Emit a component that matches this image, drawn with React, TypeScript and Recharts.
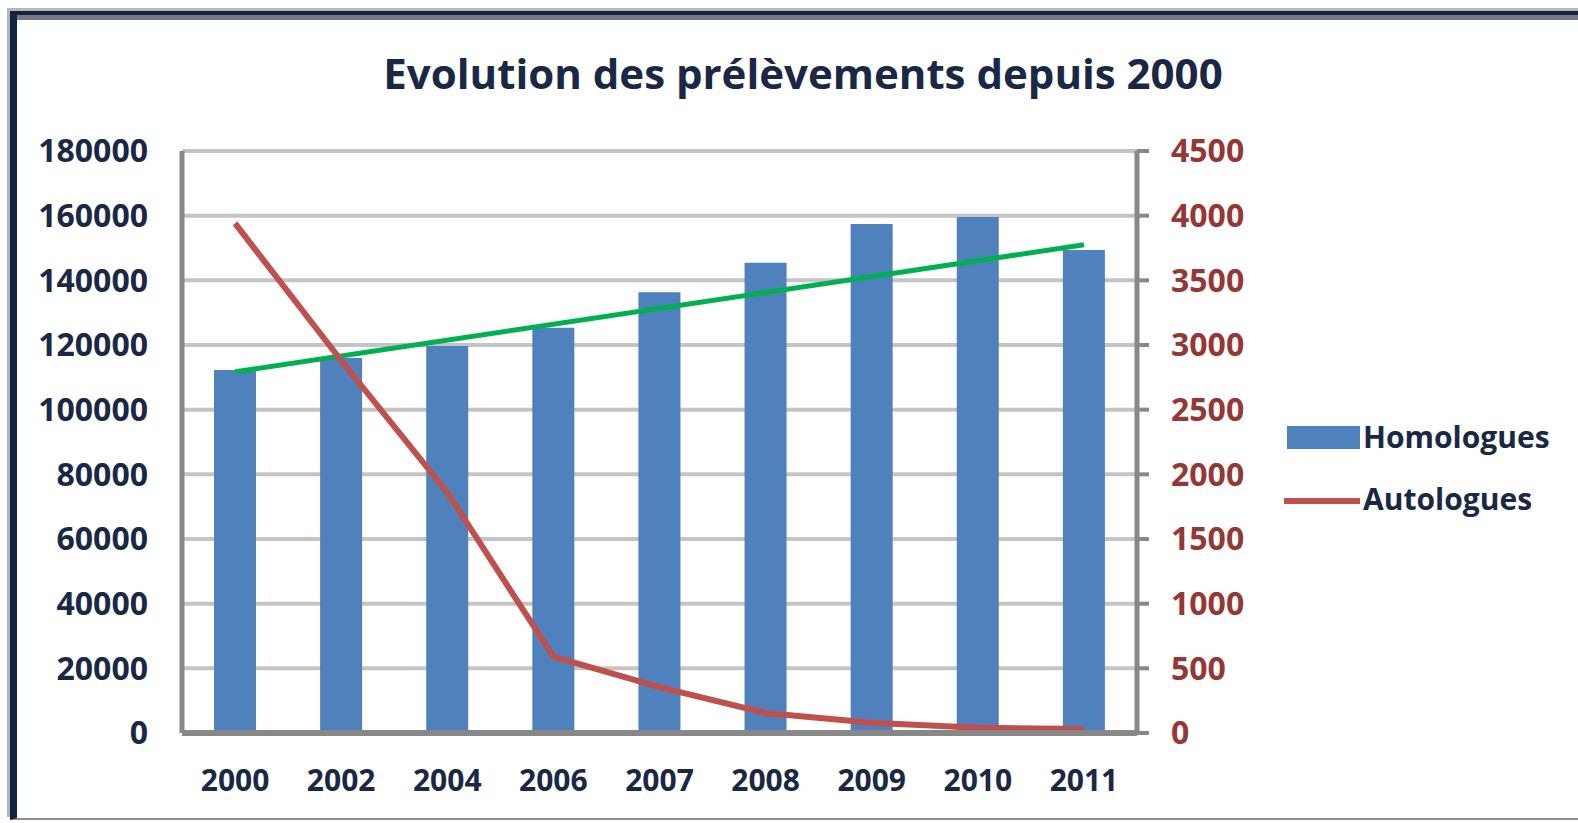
import { Bar, ComposedChart, Line, XAxis, YAxis, CartesianGrid, Legend } from "recharts"

const years = ["2000", "2002", "2004", "2006", "2007", "2008", "2009", "2010", "2011"]
const homologues = [112300, 116000, 119700, 125300, 136300, 145400, 157400, 159600, 149400]
const autologues = [3940, 2880, 1860, 590, 355, 155, 80, 40, 30]
// courbe de tendance (droite) : seulement les deux extrémités
const tendance = [111700, null, null, null, null, null, null, null, 151000]

const leftTicks = [0, 20000, 40000, 60000, 80000, 100000, 120000, 140000, 160000, 180000]
const rightTicks = [0, 500, 1000, 1500, 2000, 2500, 3000, 3500, 4000, 4500]

const data = years.map((year, i) => ({
  year,
  homologues: homologues[i],
  autologues: autologues[i],
  tendance: tendance[i],
}))

const navy = "#1b2845"
const font = "'Open Sans', sans-serif"

function LegendContent({ payload }: any) {
  // barre d'abord, puis la courbe
  const items = (payload || [])
    .filter((p: any) => p.type !== "none")
    .sort((a: any, b: any) => (a.type === "rect" ? -1 : 0) - (b.type === "rect" ? -1 : 0))
  return (
    <div style={{ fontFamily: font }}>
      {items.map((p: any) => (
        <div key={p.value} style={{ position: "relative", height: 62 }}>
          {p.type === "rect" ? (
            <div style={{ position: "absolute", left: 3, top: 20, width: 73, height: 23, background: p.color }} />
          ) : (
            <div style={{ position: "absolute", left: 0, top: 30, width: 76, height: 6, background: p.color }} />
          )}
          <div
            style={{
              position: "absolute",
              left: 79,
              top: 0,
              lineHeight: "62px",
              fontSize: 30,
              fontWeight: 700,
              color: navy,
              whiteSpace: "nowrap",
            }}
          >
            {p.value}
          </div>
        </div>
      ))}
    </div>
  )
}

export default function App() {
  return (
    <div style={{ position: "absolute", left: 0, top: 0, width: 1578, height: 823, background: "#fff", overflow: "hidden" }}>
      <div
        style={{
          position: "absolute",
          left: 10,
          top: 11,
          width: 1620,
          height: 803,
          borderLeft: "7px solid #14243f",
          borderTop: "4px solid #14243f",
          borderBottom: "2px solid #8a8f98",
          boxShadow: "inset 0 5px 0 #737a87, -3px -3px 0 #b4b6bb",
        }}
      />
      <div
        style={{
          position: "absolute",
          left: 14,
          top: 52,
          width: 1578,
          textAlign: "center",
          fontFamily: font,
          fontSize: 42,
          lineHeight: "42px",
          fontWeight: 700,
          color: navy,
        }}
      >
        Evolution des prélèvements depuis 2000
      </div>
      <div style={{ position: "absolute", left: 0, top: 0 }}>
        <ComposedChart width={1578} height={823} data={data} margin={{ top: 151, right: 0, bottom: 0, left: 0 }}>
          <CartesianGrid yAxisId="left" vertical={false} stroke="#c4c4c4" strokeWidth={4} />
          <XAxis
            dataKey="year"
            height={90}
            axisLine={{ stroke: "#888888", strokeWidth: 6 }}
            tickLine={false}
            tickSize={0}
            tickMargin={37}
            tick={{ fill: navy, fontSize: 30, fontWeight: 700, fontFamily: font }}
          />
          <YAxis
            yAxisId="left"
            width={182}
            domain={[0, 180000]}
            ticks={leftTicks}
            axisLine={{ stroke: "#888888", strokeWidth: 5 }}
            tickLine={false}
            tickSize={0}
            tickMargin={34}
            tick={{ fill: navy, fontSize: 32, fontWeight: 700, fontFamily: font }}
          />
          <YAxis
            yAxisId="right"
            orientation="right"
            width={441}
            domain={[0, 4500]}
            ticks={rightTicks}
            axisLine={{ stroke: "#888888", strokeWidth: 5 }}
            tickLine={{ stroke: "#888888", strokeWidth: 4 }}
            tickSize={12}
            tickMargin={22}
            tick={{ fill: "#953735", fontSize: 32, fontWeight: 700, fontFamily: font }}
          />
          <Legend
            layout="vertical"
            align="center"
            verticalAlign="middle"
            wrapperStyle={{ left: 1284, top: 406, width: 290 }}
            content={<LegendContent />}
          />
          <Bar yAxisId="left" dataKey="homologues" name="Homologues" fill="#4f81bd" barSize={42} isAnimationActive={false} />
          <Line
            yAxisId="left"
            dataKey="tendance"
            stroke="#00b050"
            strokeWidth={5}
            dot={false}
            connectNulls
            legendType="none"
            isAnimationActive={false}
          />
          <Line
            yAxisId="right"
            dataKey="autologues"
            name="Autologues"
            type="linear"
            stroke="#c0504d"
            strokeWidth={6}
            dot={false}
            isAnimationActive={false}
          />
        </ComposedChart>
      </div>
    </div>
  )
}
